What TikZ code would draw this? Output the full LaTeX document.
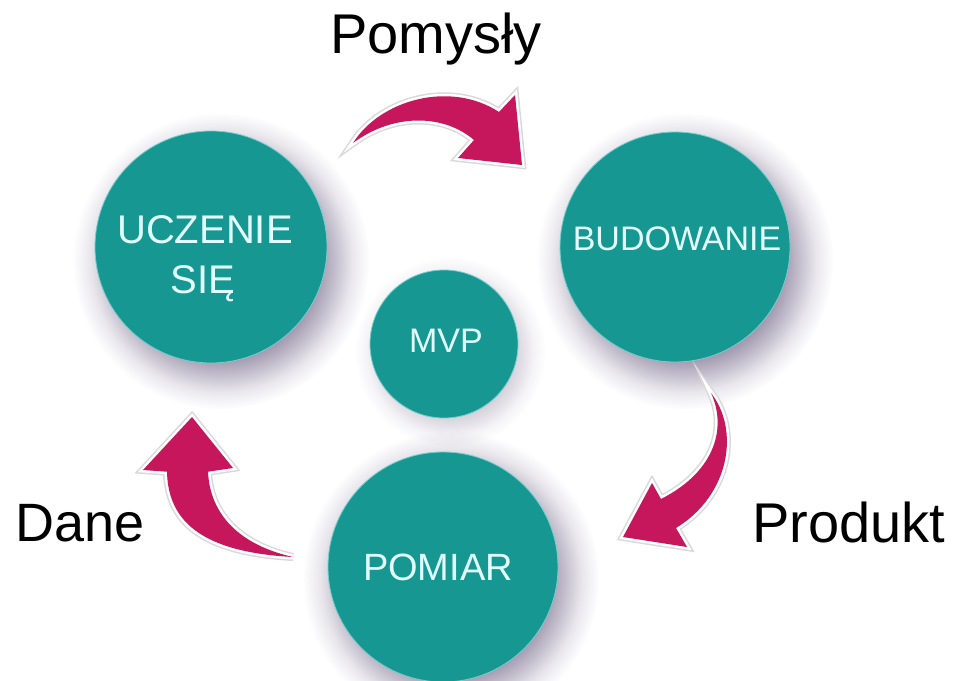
\documentclass[tikz,border=0pt]{standalone}
\usepackage{fontspec}
\setmainfont{Liberation Sans}
\usetikzlibrary{fadings}

% soft radial fading for the drop shadows under the discs
\pgfdeclareradialshading{softshadowshade}{\pgfpointorigin}{color(0bp)=(white); color(15bp)=(white); color(19bp)=(white!55!black); color(22bp)=(white!20!black); color(25bp)=(black); color(50bp)=(black)}
\pgfdeclarefading{softshadow}{\pgfuseshading{softshadowshade}}

\definecolor{tealc}{RGB}{23,151,146}
\definecolor{rimc}{RGB}{120,205,205}
\definecolor{lighttxt}{RGB}{225,255,255}
\definecolor{arrowc}{RGB}{198,22,92}
\definecolor{shadowc}{RGB}{105,92,128}

\tikzset{
  disc/.style={circle, fill=tealc, draw=rimc, line width=0.8pt, inner sep=0pt},
  disctext/.style={text=lighttxt, anchor=base, inner sep=0pt},
  outertext/.style={text=black, anchor=base, inner sep=0pt, font=\fontsize{56}{62}\selectfont},
  halo/.style={fill=shadowc, fill opacity=0.75, path fading=softshadow},
  curvedarrow/.style={fill=arrowc, line join=round,
    preaction={draw=gray!30, line width=8pt},
    preaction={draw=white, line width=5pt}},
}

\begin{document}
\begin{tikzpicture}[x=1pt, y=-1pt]
  \useasboundingbox (0,0) rectangle (958,680);
  \fill[white] (0,0) rectangle (958,680);

  % disc centres
  \coordinate (c-learn) at (211,247);
  \coordinate (c-build) at (675,247);
  \coordinate (c-mvp) at (444,344);
  \coordinate (c-measure) at (443,567);

  % soft shadows
  \fill[halo] ([shift={(10,14)}]c-learn) circle (148);
  \fill[halo] ([shift={(10,14)}]c-build) circle (148);
  \fill[halo, fill opacity=0.35] ([shift={(6,8)}]c-mvp) circle (95);
  \fill[halo] ([shift={(8,12)}]c-measure) circle (148);

  % discs
  \node[disc, minimum size=232pt] (learn) at (c-learn) {};
  \node[disc, minimum size=230pt] (build) at (c-build) {};
  \node[disc, minimum size=148pt] (mvp) at (c-mvp) {};
  \node[disc, minimum size=230pt] (measure) at (c-measure) {};

  % curved arrows of the cycle
  \path[curvedarrow] (353,143) .. controls (380,100) and (450,80) .. (499,112)
    -- (515,95) -- (522,165) -- (458,158) -- (474,140)
    .. controls (445,115) and (395,112) .. (353,143) -- cycle;
  \path[curvedarrow] (711,393) .. controls (740,430) and (730,495) .. (676,528)
    -- (687,547) -- (623,537) -- (652,483) -- (661,499)
    .. controls (718,470) and (726,425) .. (711,393) -- cycle;
  \path[curvedarrow] (293,557) .. controls (240,545) and (210,515) .. (208,471.7)
    -- (233,468) -- (192,417) -- (143,470) -- (167,471.7)
    .. controls (168,520) and (200,552) .. (293,557) -- cycle;

  % disc labels
  \node[disctext, font=\fontsize{40}{48}\selectfont] (learn-a) at (205,243) {UCZENIE};
  \node[disctext, font=\fontsize{40}{48}\selectfont] (learn-b) at (203,293) {SIĘ};
  \node[disctext, font=\fontsize{34}{40}\selectfont] (build-t) at (677,250) {BUDOWANIE};
  \node[disctext, font=\fontsize{34}{40}\selectfont] (mvp-t) at (446,352) {MVP};
  \node[disctext, font=\fontsize{38}{44}\selectfont] (measure-t) at (438,580) {POMIAR};

  % outer labels
  \node[outertext] (ideas) at (436,53) {Pomysły};
  \node[outertext, font=\fontsize{54}{60}\selectfont] (data) at (80,541) {Dane};
  \node[outertext] (product) at (849,542) {Produkt};
\end{tikzpicture}
\end{document}
